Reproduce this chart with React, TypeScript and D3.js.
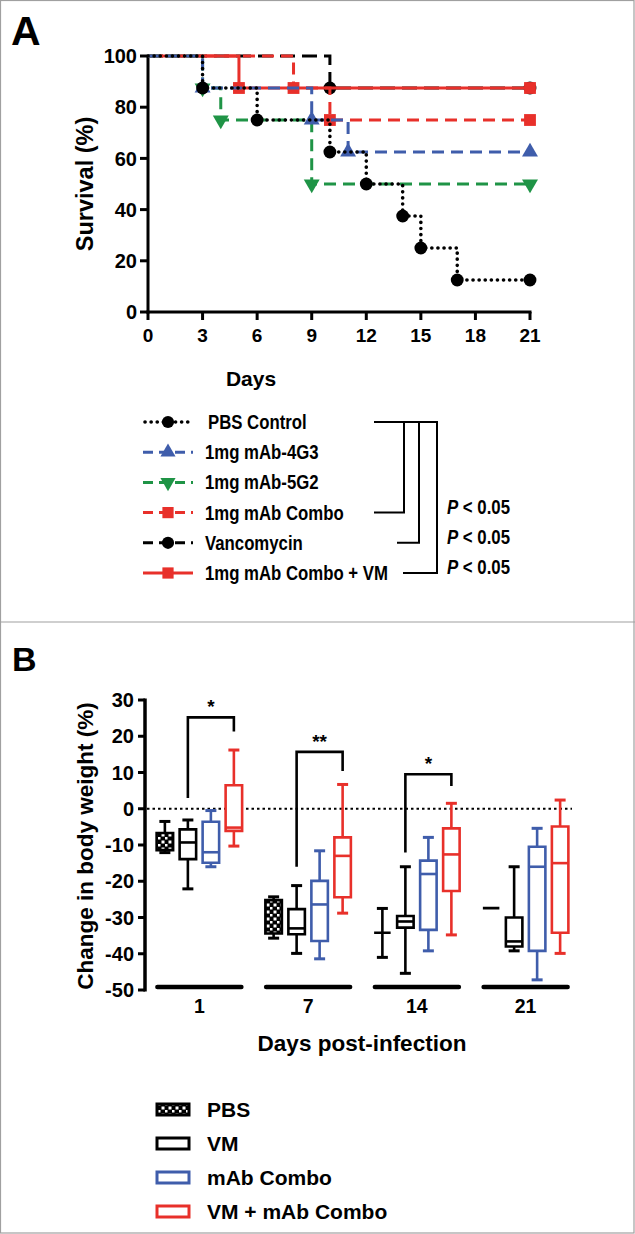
import React from "react";
import * as d3 from "d3";

// ---------- Panel A data (Kaplan-Meier survival) ----------
const survXTicks = [0, 3, 6, 9, 12, 15, 18, 21];
const survYTicks = [0, 20, 40, 60, 80, 100];

const pbsDays = [0, 3, 6, 10, 12, 14, 15, 17, 21];
const pbsSurv = [100, 87.5, 75, 62.5, 50, 37.5, 25, 12.5, 12.5];
const g4Days = [0, 3, 9, 11, 21];
const g4Surv = [100, 87.5, 75, 62.5, 62.5];
const g5Days = [0, 3, 4, 9, 21];
const g5Surv = [100, 87.5, 75, 50, 50];
const comboDays = [0, 8, 10, 21];
const comboSurv = [100, 87.5, 75, 75];
const vancoDays = [0, 10, 21];
const vancoSurv = [100, 87.5, 87.5];
const comboVmDays = [0, 5, 21];
const comboVmSurv = [100, 87.5, 87.5];

const survNames = [
  "PBS Control",
  "1mg mAb-4G3",
  "1mg mAb-5G2",
  "1mg mAb Combo",
  "Vancomycin",
  "1mg mAb Combo + VM",
];
const pLabels = ["P < 0.05", "P < 0.05", "P < 0.05"];

// ---------- Panel B data (body weight box plots) ----------
const weightDays = ["1", "7", "14", "21"];
const weightYTicks = [30, 20, 10, 0, -10, -20, -30, -40, -50];
const treatments = ["PBS", "VM", "mAb Combo", "VM + mAb Combo"];
// [whisker low, q1, median, q3, whisker high]
const pbsBox = [
  [-12.1, -11.4, -9, -6.7, -3.5],
  [-35.7, -34.4, -30, -25.2, -24.3],
  [-41, -34.2, -34.2, -34.2, -27.5],
  [-27.4, -27.4, -27.4, -27.4, -27.4],
];
const vmBox = [
  [-22.1, -13.9, -9.3, -5.7, -3.1],
  [-39.9, -34.6, -33, -27.7, -21.2],
  [-45.4, -32.8, -31.1, -29.6, -16],
  [-39.2, -38, -36.6, -30, -16],
];
const mabBox = [
  [-16, -14.9, -12, -3.6, -0.5],
  [-41.4, -36.5, -26.4, -19.9, -11.6],
  [-39.2, -33.4, -18, -14.3, -7.9],
  [-47.2, -39.2, -16, -10.5, -5.4],
];
const vmMabBox = [
  [-10.3, -6.1, -5.2, 6.5, 16.2],
  [-28.8, -24.4, -13, -7.9, 6.7],
  [-34.8, -22.7, -12.6, -5.4, 1.5],
  [-39.9, -34.2, -15, -4.9, 2.4],
];
const sigGroup = [0, 1, 2];
const sigLeft = [3, -16, -12.1];
const sigTop = [25.2, 15.7, 9.5];
const sigRight = [21.3, 10.4, 6.3];
const sigText = ["*", "**", "*"];

const FONT = "'Liberation Sans', Arial, Helvetica, sans-serif";
const BLUE = "#3f5dab";
const GREEN = "#1f9446";
const RED = "#e8302a";

export default function App() {
  // ----- Panel A scales -----
  const xA = d3.scaleLinear().domain([0, 21]).range([148, 530]);
  const yA = d3.scaleLinear().domain([0, 100]).range([312, 56]);
  const stepLine = d3
    .line<[number, number]>()
    .x((d) => xA(d[0]))
    .y((d) => yA(d[1]))
    .curve(d3.curveStepAfter);

  const styles = [
    { color: "#000", dash: "0.1 6", width: 3.6, cap: "round", sym: d3.symbolCircle, size: 130, rot: 0 },
    { color: BLUE, dash: "12 7", width: 3, cap: "butt", sym: d3.symbolTriangle, size: 110, rot: 0 },
    { color: GREEN, dash: "12 7", width: 3, cap: "butt", sym: d3.symbolTriangle, size: 110, rot: 180 },
    { color: RED, dash: "12 7", width: 3, cap: "butt", sym: d3.symbolSquare, size: 140, rot: 0 },
    { color: "#000", dash: "15 7", width: 3, cap: "butt", sym: d3.symbolCircle, size: 130, rot: 0 },
    { color: RED, dash: "none", width: 3, cap: "butt", sym: d3.symbolSquare, size: 140, rot: 0 },
  ];
  const seriesDays = [pbsDays, g4Days, g5Days, comboDays, vancoDays, comboVmDays];
  const seriesSurv = [pbsSurv, g4Surv, g5Surv, comboSurv, vancoSurv, comboVmSurv];
  const drawOrder = [4, 5, 3, 2, 1, 0];

  const legendY = (i: number) => 422 + i * 30.2;

  // ----- Panel B scales -----
  const xB = d3.scaleBand<string>().domain(weightDays).range([145, 580]);
  const xIn = d3.scaleBand<string>().domain(treatments).range([-46, 46]);
  const yB = d3.scaleLinear().domain([-50, 30]).range([990, 700]);
  const boxW = 16.5;
  const boxData = [pbsBox, vmBox, mabBox, vmMabBox];
  const boxColor = ["#000", "#000", BLUE, RED];
  const boxFill = ["url(#checker)", "#fff", "#fff", "#fff"];

  const cx = (g: number, t: number) =>
    (xB(weightDays[g]) as number) + xB.bandwidth() / 2 + (xIn(treatments[t]) as number) + xIn.bandwidth() / 2;

  return (
    <svg
      width={635}
      height={1234}
      style={{ position: "absolute", left: 0, top: 0, background: "#fff" }}
      fontFamily={FONT}
    >
      <defs>
        <pattern id="checker" patternUnits="userSpaceOnUse" width="7" height="7">
          <rect width="7" height="7" fill="#000" />
          <rect x="0.5" y="0.5" width="3" height="3" fill="#fff" />
          <rect x="4" y="4" width="2.5" height="2.5" fill="#fff" />
        </pattern>
      </defs>
      <rect x={0} y={0} width={635} height={1234} fill="#fff" />
      <rect x={0.5} y={0.5} width={633.5} height={1232.5} fill="none" stroke="#a0a0a0" strokeWidth={1.2} />
      <line x1={0} x2={635} y1={622} y2={622} stroke="#a0a0a0" strokeWidth={1.2} />

      {/* ================= Panel A ================= */}
      <text x={11} y={45} fontSize={41} fontWeight="bold">A</text>

      {/* axes */}
      <line x1={148} x2={148} y1={56} y2={313.5} stroke="#000" strokeWidth={3} />
      <line x1={146.5} x2={531.5} y1={312} y2={312} stroke="#000" strokeWidth={3} />
      {survYTicks.map((t) => (
        <g key={"ya" + t}>
          <line x1={140} x2={148} y1={yA(t)} y2={yA(t)} stroke="#000" strokeWidth={3} />
          <text x={137} y={yA(t)} dy="0.36em" textAnchor="end" fontSize={20} fontWeight="bold">
            {t}
          </text>
        </g>
      ))}
      {survXTicks.map((t) => (
        <g key={"xa" + t}>
          <line x1={xA(t)} x2={xA(t)} y1={312} y2={320} stroke="#000" strokeWidth={3} />
          <text x={xA(t)} y={342} textAnchor="middle" fontSize={19} fontWeight="bold">
            {t}
          </text>
        </g>
      ))}
      <text x={251} y={386} textAnchor="middle" fontSize={21} fontWeight="bold">Days</text>
      <text
        transform={`translate(93,184) rotate(-90)`}
        textAnchor="middle"
        fontSize={23.5}
        fontWeight="bold"
      >
        Survival (%)
      </text>

      {/* survival curves */}
      {drawOrder.map((i) => {
        const s = styles[i];
        const pts: [number, number][] = seriesDays[i].map((d, k) => [d, seriesSurv[i][k]]);
        const sym = d3.symbol().type(s.sym).size(s.size)();
        return (
          <g key={"s" + i}>
            <path
              d={stepLine(pts) as string}
              fill="none"
              stroke={s.color}
              strokeWidth={s.width}
              strokeDasharray={s.dash}
              strokeLinecap={s.cap as any}
            />
            {pts.slice(1).map((p, k) => (
              <path
                key={k}
                d={sym as string}
                transform={`translate(${xA(p[0])},${yA(p[1])}) rotate(${s.rot})`}
                fill={s.color}
              />
            ))}
          </g>
        );
      })}

      {/* legend A */}
      {survNames.map((name, i) => {
        const s = styles[i];
        const y = legendY(i);
        const sym = d3.symbol().type(s.sym).size(s.size * 0.9)();
        return (
          <g key={"la" + i}>
            <line
              x1={i === 0 ? 145 : 143}
              x2={193}
              y1={y}
              y2={y}
              stroke={s.color}
              strokeWidth={s.width}
              strokeDasharray={i === 0 ? "0.1 6" : i === 5 ? "none" : "10 6"}
              strokeLinecap={s.cap as any}
            />
            <path d={sym as string} transform={`translate(168,${y}) rotate(${s.rot})`} fill={s.color} />
            <text
              transform={`translate(${i === 0 ? 208 : 205},${y}) scale(0.86,1)`}
              dy="0.36em"
              fontSize={19.5}
              fontWeight="bold"
            >
              {name}
            </text>
          </g>
        );
      })}
      {/* significance brackets A */}
      <g stroke="#000" strokeWidth={2} fill="none">
        <path d={`M374,${legendY(0)} H437 V${legendY(5)} H403`} />
        <path d={`M404,${legendY(0)} V${legendY(3)} H374`} />
        <path d={`M419,${legendY(0)} V${legendY(4)} H397`} />
      </g>
      {pLabels.map((p, i) => (
        <text
          key={"p" + i}
          transform={`translate(447,${legendY(3) - 6 + i * 30}) scale(0.84,1)`}
          dy="0.36em"
          fontSize={20}
          fontWeight="bold"
        >
          <tspan fontStyle="italic">P</tspan>
          <tspan> &lt; 0.05</tspan>
        </text>
      ))}

      {/* ================= Panel B ================= */}
      <text x={12} y={671} fontSize={34} fontWeight="bold">B</text>

      <line x1={145} x2={145} y1={698.5} y2={991.5} stroke="#000" strokeWidth={3.5} />
      {weightYTicks.map((t) => (
        <g key={"yb" + t}>
          <line x1={138} x2={145} y1={yB(t)} y2={yB(t)} stroke="#000" strokeWidth={3} />
          <text x={134} y={yB(t)} dy="0.36em" textAnchor="end" fontSize={20} fontWeight="bold">
            {t}
          </text>
        </g>
      ))}
      <text
        transform={`translate(93,846) rotate(-90)`}
        textAnchor="middle"
        fontSize={22.5}
        fontWeight="bold"
      >
        Change in body weight (%)
      </text>

      {/* zero reference line */}
      <line x1={147} x2={572} y1={yB(0)} y2={yB(0)} stroke="#000" strokeWidth={2} strokeDasharray="2.5 3" />

      {/* group baselines + labels */}
      {weightDays.map((g) => {
        const c = (xB(g) as number) + xB.bandwidth() / 2;
        return (
          <g key={"gl" + g}>
            <line x1={c - 42} x2={c + 42} y1={987} y2={987} stroke="#000" strokeWidth={4.5} strokeLinecap="round" />
            <text x={c} y={1013} textAnchor="middle" fontSize={19.5} fontWeight="bold">
              {g}
            </text>
          </g>
        );
      })}
      <text x={362} y={1051} textAnchor="middle" fontSize={22.5} fontWeight="bold">
        Days post-infection
      </text>

      {/* boxes */}
      {boxData.map((series, t) =>
        series.map((v, g) => {
          const c = cx(g, t);
          const [lo, q1, med, q3, hi] = v;
          const x0 = c - boxW / 2;
          const x1 = c + boxW / 2;
          const col = boxColor[t];
          const cap = 5.5;
          return (
            <g key={`b${t}-${g}`} stroke={col} strokeWidth={2.6} fill="none">
              {hi > q3 && (
                <>
                  <line x1={c} x2={c} y1={yB(q3)} y2={yB(hi)} />
                  <line x1={c - cap} x2={c + cap} y1={yB(hi)} y2={yB(hi)} strokeWidth={3} />
                </>
              )}
              {lo < q1 && (
                <>
                  <line x1={c} x2={c} y1={yB(q1)} y2={yB(lo)} />
                  <line x1={c - cap} x2={c + cap} y1={yB(lo)} y2={yB(lo)} strokeWidth={3} />
                </>
              )}
              <path
                d={`M${x0},${yB(q3)} H${x1} V${yB(q1)} H${x0} Z`}
                fill={q3 > q1 ? boxFill[t] : "none"}
              />
              {q3 > q1 && t > 0 && <line x1={x0} x2={x1} y1={yB(med)} y2={yB(med)} />}
            </g>
          );
        })
      )}

      {/* significance brackets B */}
      {sigGroup.map((g, i) => {
        const xl = cx(g, 1);
        const xr = cx(g, 3);
        return (
          <g key={"sig" + i}>
            <path
              d={`M${xl},${yB(sigLeft[i])} V${yB(sigTop[i])} H${xr} V${yB(sigRight[i])}`}
              fill="none"
              stroke="#000"
              strokeWidth={2.6}
            />
            <text x={(xl + xr) / 2} y={yB(sigTop[i]) - 4} textAnchor="middle" fontSize={19} fontWeight="bold">
              {sigText[i]}
            </text>
          </g>
        );
      })}

      {/* legend B */}
      {treatments.map((t, i) => {
        const y = 1109.5 + i * 34;
        return (
          <g key={"lb" + i}>
            <rect
              x={157}
              y={y - 5.5}
              width={32}
              height={11}
              fill={boxFill[i]}
              stroke={boxColor[i]}
              strokeWidth={3}
            />
            <text x={207} y={y} dy="0.36em" fontSize={21} fontWeight="bold">
              {t}
            </text>
          </g>
        );
      })}
    </svg>
  );
}
